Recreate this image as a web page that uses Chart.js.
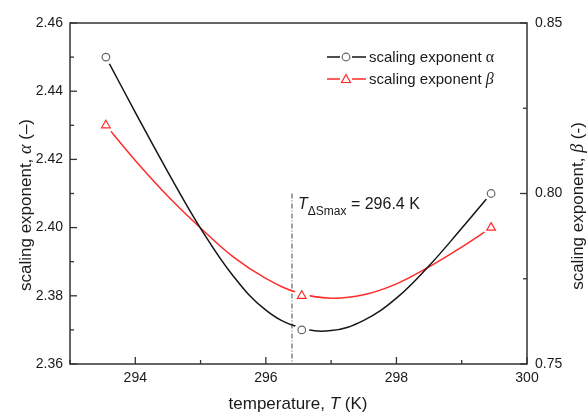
<!DOCTYPE html>
<html>
<head>
<meta charset="utf-8">
<script src="https://cdn.jsdelivr.net/npm/chart.js@4.4.0/dist/chart.umd.min.js"></script>
<style>
    body { margin: 0; background: #fff; }
    #box { width: 588px; height: 413px; }
</style>
</head>
<body>
<div id="box"><canvas id="grafico" width="588" height="413"></canvas></div>
<script>
// Measured points (temperature in K)
const tempPoints = [293.55, 296.55, 299.45];
const alphaPoints = [2.45, 2.37, 2.41];
const betaPoints = [0.82, 0.77, 0.79];

// Fitted curves
const fitTemps = [293.55, 294, 294.5, 295, 295.5, 296, 296.5, 297, 297.5, 298, 298.5, 299, 299.45];
const alphaFit = [2.450, 2.4338, 2.4163, 2.3998, 2.3858, 2.3758, 2.3708, 2.3698, 2.3728, 2.3793, 2.3888, 2.3998, 2.410];
const betaFit = [0.820, 0.8097, 0.7992, 0.7899, 0.7814, 0.7751, 0.7708, 0.7693, 0.7703, 0.7735, 0.7785, 0.7843, 0.790];

// T_dSmax marker line
const tPeak = 296.4;
const tPeakRange = [2.41, 2.36];

const legendLabels = ["scaling exponent ", "scaling exponent "];
const corPreto = "#151515";
const corVermelho = "#ff2b2b";
const fonte = "'Liberation Sans', Arial, sans-serif";
const fonteGrega = "'Liberation Serif', 'Times New Roman', serif";

const pares = (xs, ys) => xs.map((x, i) => ({ x: x, y: ys[i] }));

// desenha texto com partes de fontes diferentes
function textoRico(ctx, partes, x, y, align) {
    let largura = 0
    partes.forEach(p => {
        ctx.font = p.font
        p.w = ctx.measureText(p.text).width
        largura += p.w
    })
    let cx = align === 'center' ? x - largura / 2 : x
    partes.forEach(p => {
        ctx.font = p.font
        ctx.fillText(p.text, cx, y + (p.dy || 0))
        cx += p.w
    })
}

const pluginMoldura = {
    id: 'moldura',
    afterDraw(chart) {
        const ctx = chart.ctx
        const area = chart.chartArea
        ctx.save()
        ctx.strokeStyle = '#333'
        ctx.lineWidth = 1.5
        ctx.strokeRect(area.left, area.top, area.right - area.left, area.bottom - area.top)

        // ticks para dentro
        ctx.lineWidth = 1.3
        const sx = chart.scales.x
        sx.ticks.forEach(t => {
            const px = sx.getPixelForValue(t.value)
            const len = t.label !== '' ? 7 : 4
            ctx.beginPath(); ctx.moveTo(px, area.bottom); ctx.lineTo(px, area.bottom - len); ctx.stroke()
        })
        const sy = chart.scales.y
        sy.ticks.forEach(t => {
            const py = sy.getPixelForValue(t.value)
            const len = t.label !== '' ? 7 : 4
            ctx.beginPath(); ctx.moveTo(area.left, py); ctx.lineTo(area.left + len, py); ctx.stroke()
        })
        const sy2 = chart.scales.y2
        sy2.ticks.forEach(t => {
            const py = sy2.getPixelForValue(t.value)
            const len = t.label !== '' ? 7 : 4
            ctx.beginPath(); ctx.moveTo(area.right, py); ctx.lineTo(area.right - len, py); ctx.stroke()
        })

        ctx.fillStyle = '#1a1a1a'
        ctx.textBaseline = 'alphabetic'

        // titulo eixo x
        textoRico(ctx, [
            { text: 'temperature, ', font: `17px ${fonte}` },
            { text: 'T', font: `italic 17px ${fonte}` },
            { text: ' (K)', font: `17px ${fonte}` }
        ], 298, 409, 'center')

        // titulo eixo y esquerdo
        ctx.save()
        ctx.translate(26, 205)
        ctx.rotate(-Math.PI / 2)
        textoRico(ctx, [
            { text: 'scaling exponent, ', font: `17px ${fonte}` },
            { text: 'α', font: `italic 18px ${fonteGrega}` },
            { text: ' (–)', font: `17px ${fonte}` }
        ], 0, 5, 'center')
        ctx.restore()

        // titulo eixo y direito
        ctx.save()
        ctx.translate(578, 206)
        ctx.rotate(-Math.PI / 2)
        textoRico(ctx, [
            { text: 'scaling exponent, ', font: `17px ${fonte}` },
            { text: 'β', font: `italic 18px ${fonteGrega}` },
            { text: ' (-)', font: `17px ${fonte}` }
        ], 0, 5, 'center')
        ctx.restore()

        // anotacao T_dSmax
        textoRico(ctx, [
            { text: 'T', font: `italic 16px ${fonte}` },
            { text: 'ΔSmax', font: `12px ${fonte}`, dy: 6 },
            { text: ' = 296.4 K', font: `16px ${fonte}` }
        ], 298, 209, 'left')

        // legenda
        const linhas = [
            { y: 57, cor: corPreto, marcador: 'circle', corMarcador: '#666', grego: 'α', estilo: '' },
            { y: 79, cor: corVermelho, marcador: 'triangle', corMarcador: corVermelho, grego: 'β', estilo: 'italic ' }
        ]
        linhas.forEach((l, i) => {
            ctx.strokeStyle = l.cor
            ctx.lineWidth = 1.5
            ctx.beginPath(); ctx.moveTo(327, l.y); ctx.lineTo(340, l.y); ctx.stroke()
            ctx.beginPath(); ctx.moveTo(352, l.y); ctx.lineTo(366, l.y); ctx.stroke()
            ctx.lineWidth = 1.2
            ctx.strokeStyle = l.corMarcador
            ctx.fillStyle = '#fff'
            if (l.marcador === 'circle') {
                ctx.beginPath(); ctx.arc(346, l.y, 3.8, 0, Math.PI * 2); ctx.fill(); ctx.stroke()
            } else {
                ctx.beginPath()
                ctx.moveTo(346, l.y - 4.5); ctx.lineTo(350.5, l.y + 3.5); ctx.lineTo(341.5, l.y + 3.5)
                ctx.closePath(); ctx.fill(); ctx.stroke()
            }
            ctx.fillStyle = '#1a1a1a'
            textoRico(ctx, [
                { text: legendLabels[i], font: `15px ${fonte}` },
                { text: l.grego, font: `${l.estilo}16px ${fonteGrega}` }
            ], 369, l.y + 5, 'left')
        })
        ctx.restore()
    }
}

const myChart = new Chart(document.getElementById('grafico'), {
    type: 'line',
    data: {
        datasets: [
            {
                label: 'alpha pontos',
                data: pares(tempPoints, alphaPoints),
                yAxisID: 'y',
                showLine: false,
                pointStyle: 'circle',
                pointRadius: 3.8,
                pointBorderWidth: 1.2,
                pointBorderColor: '#666',
                pointBackgroundColor: '#fff'
            },
            {
                label: 'beta pontos',
                data: pares(tempPoints, betaPoints),
                yAxisID: 'y2',
                showLine: false,
                pointStyle: 'triangle',
                pointRadius: 5,
                pointBorderWidth: 1.2,
                pointBorderColor: corVermelho,
                pointBackgroundColor: '#fff'
            },
            {
                label: 'alpha mascara',
                data: pares(tempPoints, alphaPoints),
                yAxisID: 'y',
                showLine: false,
                pointRadius: 7.5,
                pointBorderWidth: 0,
                pointBackgroundColor: '#fff'
            },
            {
                label: 'beta mascara',
                data: pares(tempPoints, betaPoints),
                yAxisID: 'y2',
                showLine: false,
                pointRadius: 8,
                pointBorderWidth: 0,
                pointBackgroundColor: '#fff'
            },
            {
                label: 'alpha ajuste',
                data: pares(fitTemps, alphaFit),
                yAxisID: 'y',
                borderColor: corPreto,
                borderWidth: 1.5,
                pointRadius: 0,
                tension: 0.4
            },
            {
                label: 'beta ajuste',
                data: pares(fitTemps, betaFit),
                yAxisID: 'y2',
                borderColor: corVermelho,
                borderWidth: 1.5,
                pointRadius: 0,
                tension: 0.4
            },
            {
                label: 'T pico',
                data: tPeakRange.map(v => ({ x: tPeak, y: v })),
                yAxisID: 'y',
                borderColor: '#444',
                borderWidth: 1,
                borderDash: [5, 2, 1, 2],
                pointRadius: 0
            }
        ]
    },
    options: {
        responsive: false,
        animation: false,
        layout: { padding: { top: 23, left: 0, right: 0, bottom: 0 } },
        plugins: {
            legend: { display: false },
            tooltip: { enabled: false }
        },
        scales: {
            x: {
                type: 'linear',
                min: 293,
                max: 300,
                grid: { drawOnChartArea: false, drawTicks: false },
                border: { display: false },
                afterFit: s => { s.height = 49 },
                ticks: {
                    stepSize: 1,
                    autoSkip: false,
                    maxRotation: 0,
                    padding: 6,
                    color: '#1a1a1a',
                    font: { family: fonte, size: 14 },
                    callback: v => Math.round(v) % 2 === 0 ? String(Math.round(v)) : ''
                }
            },
            y: {
                position: 'left',
                min: 2.36,
                max: 2.46,
                grid: { drawOnChartArea: false, drawTicks: false },
                border: { display: false },
                afterFit: s => { s.width = 70 },
                ticks: {
                    stepSize: 0.01,
                    autoSkip: false,
                    padding: 7,
                    color: '#1a1a1a',
                    font: { family: fonte, size: 14 },
                    callback: (v, i) => i % 2 === 0 ? v.toFixed(2) : ''
                }
            },
            y2: {
                position: 'right',
                min: 0.75,
                max: 0.85,
                grid: { drawOnChartArea: false, drawTicks: false },
                border: { display: false },
                afterFit: s => { s.width = 61 },
                ticks: {
                    stepSize: 0.025,
                    autoSkip: false,
                    padding: 8,
                    color: '#1a1a1a',
                    font: { family: fonte, size: 14 },
                    callback: (v, i) => i % 2 === 0 ? v.toFixed(2) : ''
                }
            }
        }
    },
    plugins: [pluginMoldura]
});
</script>
</body>
</html>
